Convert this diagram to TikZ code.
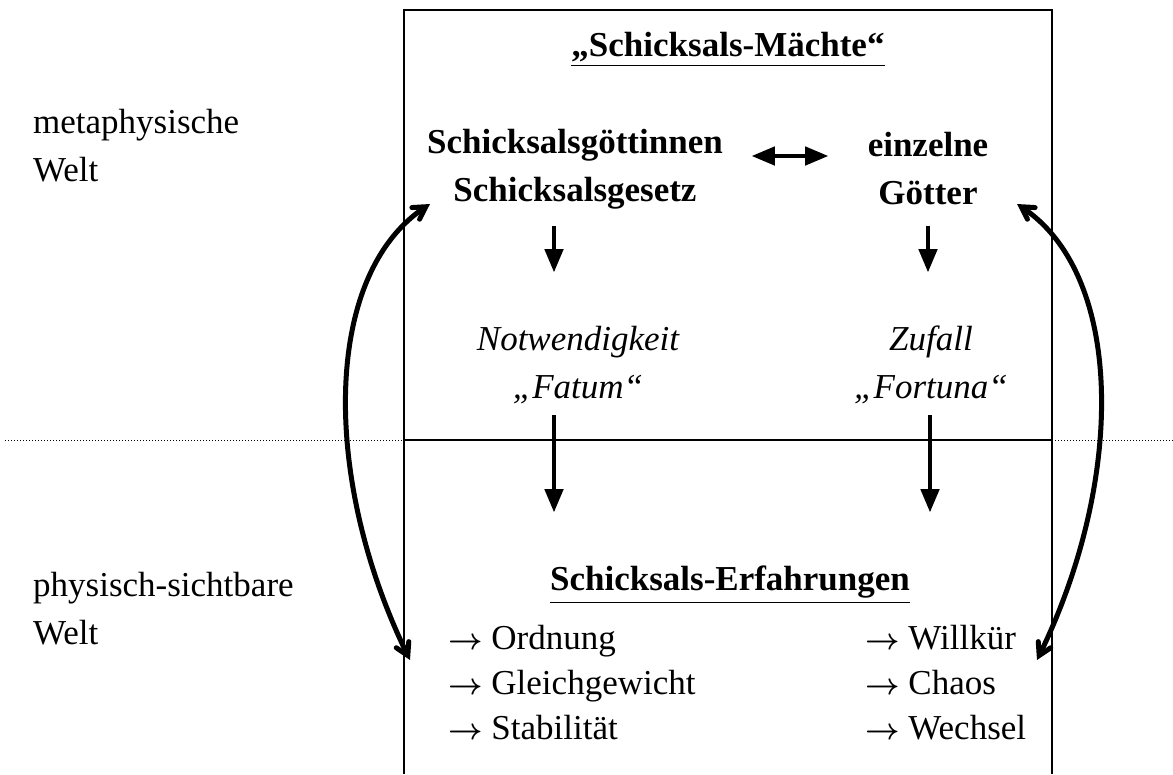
\documentclass[tikz,border=0pt]{standalone}
\usepackage{amsmath}
\usepackage{fontspec}
\setmainfont{Liberation Serif}
\usepackage{tikz}
\usetikzlibrary{arrows}

\newcommand{\ra}{{\normalsize\scalebox{3}{$\boldsymbol{\rightarrow}$}}}

\tikzset{
    txt/.style={font=\fontsize{35}{48}\selectfont, align=center, inner sep=0pt},
    side/.style={txt, align=left, anchor=west},
    listing/.style={side, font=\fontsize{35}{45}\selectfont},
    downarrow/.style={line width=4.5pt, black, -triangle 45},
    bendarrow/.style={line width=5pt, black, angle 60-angle 60}
}

\begin{document}
\begin{tikzpicture}[x=1pt, y=-1pt]
        \useasboundingbox (0,0) rectangle (1173,774);
        % frame and border between the worlds
        \draw[line width=1.6pt] (404,774) -- (404,10) -- (1052,10) -- (1052,774);
        \draw[line width=1.4pt] (404,440) -- (1052,440);
        \draw[line width=1pt, dotted] (5,440) -- (404,440);
        \draw[line width=1pt, dotted] (1052,440) -- (1173,440);

        \node[side] (meta) at (33,146) {metaphysische\\Welt};
        \node[side] (phys) at (33,609) {physisch-sichtbare\\Welt};

        \node[txt, font=\fontsize{35}{48}\selectfont\bfseries] (maechte) at (728,50) {\underline{„Schicksals-Mächte“}};
        \node[txt, font=\fontsize{35}{48}\selectfont\bfseries] (goettinnen) at (575,169) {Schicksalsgöttinnen\\Schicksalsgesetz};
        \node[txt, font=\fontsize{35}{48}\selectfont\bfseries] (goetter) at (928,169) {einzelne\\Götter};
        \node[txt, font=\fontsize{35}{48}\selectfont\itshape] (fatum) at (578,365) {Notwendigkeit\\„Fatum“};
        \node[txt, font=\fontsize{35}{48}\selectfont\itshape] (fortuna) at (931,365) {Zufall\\„Fortuna“};
        \node[txt, font=\fontsize{35}{48}\selectfont\bfseries] (erfahrung) at (730,585) {\underline{Schicksals-Erfahrungen}};

        \node[listing] (ordnung) at (448,683) {\ra\ Ordnung\\\ra\ Gleichgewicht\\\ra\ Stabilität};
        \node[listing] (willkuer) at (865,683) {\ra\ Willkür\\\ra\ Chaos\\\ra\ Wechsel};

        \coordinate (hl) at (752,156);
        \coordinate (hr) at (828,156);
        \draw[line width=4.5pt, triangle 45-triangle 45] (hl) -- (hr);

        \draw[downarrow] (554,226) -- (554,272);
        \draw[downarrow] (928,226) -- (928,272);
        \draw[downarrow] (554,415) -- (554,512);
        \draw[downarrow] (930,415) -- (930,512);

        \coordinate (lb) at (410,660);
        \coordinate (lt) at (430,204);
        \coordinate (rb) at (1037,660);
        \coordinate (rt) at (1017,204);
        \draw[bendarrow] (lb) .. controls (322,480) and (322,275) .. (lt);
        \draw[bendarrow] (rb) .. controls (1125,480) and (1125,275) .. (rt);
    \end{tikzpicture}
\end{document}
